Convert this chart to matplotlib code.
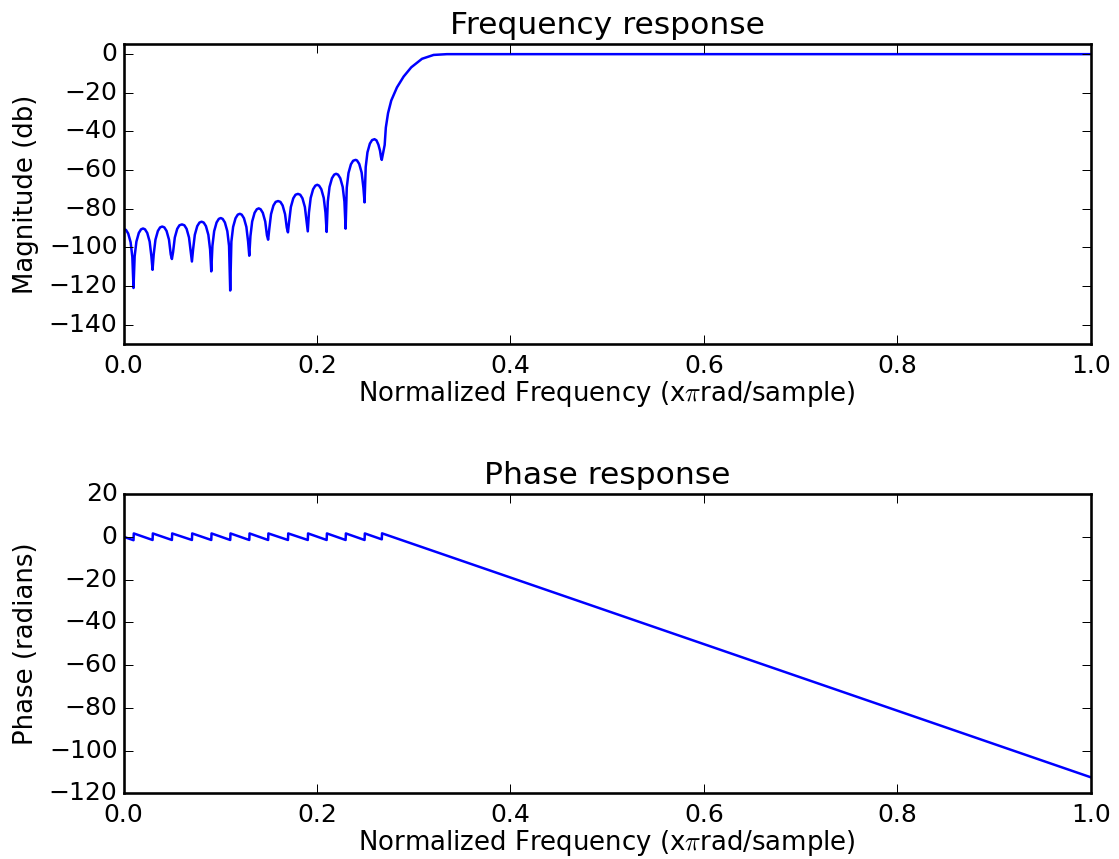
import matplotlib
matplotlib.use("Agg")
import matplotlib.pyplot as plt

# ---- data ----
mag_freq = [
    0.0000, 0.0025, 0.0048, 0.0073, 0.0091, 0.0103,
    0.0115, 0.0133, 0.0158, 0.0181, 0.0202, 0.0222, 0.0245, 0.0270, 0.0288, 0.0300,
    0.0312, 0.0330, 0.0355, 0.0378, 0.0400, 0.0422, 0.0445, 0.0470, 0.0488, 0.0500,
    0.0512, 0.0530, 0.0555, 0.0578, 0.0604, 0.0629, 0.0652, 0.0677, 0.0695, 0.0707,
    0.0719, 0.0737, 0.0762, 0.0785, 0.0807, 0.0829, 0.0852, 0.0877, 0.0895, 0.0907,
    0.0919, 0.0937, 0.0962, 0.0985, 0.1005, 0.1025, 0.1048, 0.1073, 0.1091, 0.1103,
    0.1115, 0.1133, 0.1158, 0.1181, 0.1202, 0.1222, 0.1245, 0.1270, 0.1288, 0.1300,
    0.1312, 0.1330, 0.1355, 0.1378, 0.1398, 0.1417, 0.1440, 0.1465, 0.1483, 0.1495,
    0.1507, 0.1525, 0.1550, 0.1573, 0.1598, 0.1622, 0.1645, 0.1670, 0.1688, 0.1700,
    0.1712, 0.1730, 0.1755, 0.1778, 0.1803, 0.1827, 0.1850, 0.1875, 0.1893, 0.1905,
    0.1917, 0.1935, 0.1960, 0.1983, 0.2003, 0.2022, 0.2045, 0.2070, 0.2088, 0.2100,
    0.2112, 0.2130, 0.2155, 0.2178, 0.2198, 0.2218, 0.2241, 0.2266, 0.2284, 0.2296,
    0.2308, 0.2326, 0.2351, 0.2374, 0.2400, 0.2414, 0.2437, 0.2462, 0.2480, 0.2492,
    0.2504, 0.2522, 0.2547, 0.2570, 0.2595, 0.2615, 0.2635, 0.2652, 0.2662, 0.2670,
    0.2700, 0.2712, 0.2735, 0.2768, 0.2827, 0.2896, 0.2975, 0.3086,
    0.3206, 0.3344, 1.0000,
]
mag_db = [
    -90.5, -90.95, -92.8, -97.3, -104.9, -121.0,
    -104.6, -97.0, -92.5, -90.65, -90.2, -90.65, -92.5, -97.0, -104.6, -111.6,
    -103.6, -96.0, -91.5, -89.65, -89.2, -89.65, -91.5, -96.0, -103.6, -106.0,
    -102.5, -94.9, -90.4, -88.55, -88.1, -88.55, -90.4, -94.9, -102.5, -107.3,
    -101.1, -93.5, -89.0, -87.15, -86.7, -87.15, -89.0, -93.5, -101.1, -112.4,
    -99.2, -91.6, -87.1, -85.25, -84.8, -85.25, -87.1, -91.6, -99.2, -122.3,
    -97.0, -89.4, -84.9, -83.05, -82.6, -83.05, -84.9, -89.4, -97.0, -104.3,
    -94.2, -86.6, -82.1, -80.25, -79.8, -80.25, -82.1, -86.6, -93.8, -96.0,
    -90.4, -82.8, -78.3, -76.45, -76.0, -76.45, -78.3, -82.8, -89.8, -92.2,
    -86.7, -79.1, -74.6, -72.75, -72.3, -72.75, -74.6, -79.1, -86.7, -91.7,
    -82.0, -74.4, -69.9, -68.05, -67.6, -68.05, -69.9, -74.4, -82.0, -92.0,
    -76.3, -68.7, -64.2, -62.35, -61.9, -62.35, -64.2, -68.7, -76.3, -90.3,
    -69.1, -61.5, -57.0, -55.15, -54.7, -55.0, -56.8, -61.3, -69.1, -76.7,
    -58.4, -50.8, -46.3, -44.45, -44.0, -44.6, -46.8, -50.0, -53.3, -54.7,
    -47.0, -38.0, -30.5, -24.0, -17.2, -11.6, -6.8, -2.4,
    -0.4, 0.0, 0.0,
]

phase_freq = [
    0.0000, 0.0103, 0.0106, 0.0300, 0.0303, 0.0500, 0.0503, 0.0707, 0.0710,
    0.0907, 0.0910, 0.1103, 0.1106, 0.1300, 0.1303, 0.1495, 0.1498,
    0.1700, 0.1703, 0.1905, 0.1908, 0.2100, 0.2103, 0.2296, 0.2299,
    0.2492, 0.2495, 0.2670, 0.2673, 1.0000,
]
phase_rad = [
    0.0, -1.6, 1.55, -1.5, 1.55, -1.5, 1.55, -1.5, 1.55,
    -1.5, 1.55, -1.5, 1.55, -1.5, 1.55, -1.5, 1.55,
    -1.5, 1.55, -1.5, 1.55, -1.5, 1.55, -1.5, 1.55,
    -1.5, 1.55, -1.2, 1.6, -112.5,
]

x_ticks = [0.0, 0.2, 0.4, 0.6, 0.8, 1.0]
mag_ticks = [0, -20, -40, -60, -80, -100, -120, -140]
phase_ticks = [20, 0, -20, -40, -60, -80, -100, -120]

# ---- style ----
plt.style.use("classic")
plt.rcParams["figure.facecolor"] = "white"
plt.rcParams["savefig.facecolor"] = "white"
plt.rcParams["axes.linewidth"] = 1.3
plt.rcParams["xtick.labelsize"] = 12.5
plt.rcParams["ytick.labelsize"] = 12.5
plt.rcParams["axes.labelsize"] = 13
plt.rcParams["axes.titlesize"] = 15.7
plt.rcParams["xtick.major.pad"] = 5
plt.rcParams["ytick.major.pad"] = 3
plt.rcParams["xtick.major.size"] = 4.5
plt.rcParams["ytick.major.size"] = 4.5

fig = plt.figure(figsize=(1119 / 144, 859 / 144), dpi=144)

ax1 = fig.add_axes([0.1104, 0.5995, 0.8643, 0.3487])
ax1.plot(mag_freq, mag_db, color="b", linewidth=1.25)
ax1.set_xlim(0, 1)
ax1.set_ylim(-150, 5)
ax1.set_xticks(x_ticks)
ax1.set_yticks(mag_ticks)
ax1.set_title("Frequency response")
ax1.set_xlabel(r"Normalized Frequency (x$\pi$rad/sample)", labelpad=0.5)
ax1.set_ylabel("Magnitude (db)")

ax2 = fig.add_axes([0.1104, 0.0765, 0.8643, 0.3484])
ax2.plot(phase_freq, phase_rad, color="b", linewidth=1.25)
ax2.set_xlim(0, 1)
ax2.set_ylim(-120, 20)
ax2.set_xticks(x_ticks)
ax2.set_yticks(phase_ticks)
ax2.set_title("Phase response")
ax2.set_xlabel(r"Normalized Frequency (x$\pi$rad/sample)", labelpad=0.5)
ax2.set_ylabel("Phase (radians)")

fig.savefig("out.png", dpi=144)
